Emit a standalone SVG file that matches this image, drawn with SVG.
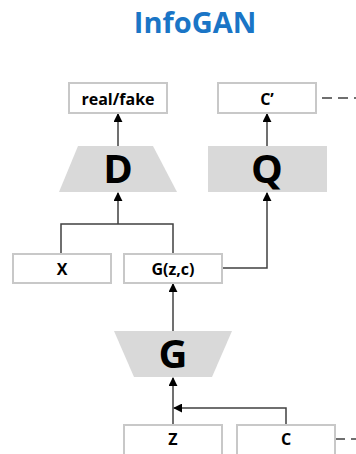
<svg xmlns="http://www.w3.org/2000/svg" width="356" height="454" viewBox="0 0 356 454">
<defs>
<marker id="ah" viewBox="0 0 10 10" refX="9" refY="5" markerWidth="9" markerHeight="9" markerUnits="userSpaceOnUse" orient="auto">
<path d="M0,0 L10,5 L0,10 z" fill="#000"/>
</marker>
</defs>
<style>
.box{fill:#fff;stroke:#c8c8c8;stroke-width:2}
.net{fill:#d9d9d9;stroke:none}
.lbl{font-family:"Open Sans","Noto Sans",sans-serif;font-weight:bold;font-size:16px;fill:#000;text-anchor:middle}
.big{font-family:"Open Sans","Noto Sans",sans-serif;font-weight:bold;font-size:40px;fill:#000;text-anchor:middle}
.ln{fill:none;stroke:#404040;stroke-width:1.5}
.dash{fill:none;stroke:#404040;stroke-width:1.5;stroke-dasharray:10 6}
</style>
<rect width="356" height="454" fill="#fff"/>
<text x="195" y="33" font-family="'Open Sans','Noto Sans',sans-serif" font-weight="bold" font-size="29" fill="#1a75c6" text-anchor="middle">InfoGAN</text>
<g id="connectors">
<path class="ln" d="M118,146 V114" marker-end="url(#ah)"/>
<path class="ln" d="M267,146 V114" marker-end="url(#ah)"/>
<path class="ln" d="M61,254 V224 H173 V254 M118,224 V193" marker-end="url(#ah)"/>
<path class="ln" d="M222,268 H267 V193" marker-end="url(#ah)"/>
<path class="ln" d="M173,331 V284" marker-end="url(#ah)"/>
<path class="ln" d="M173,425 V378" marker-end="url(#ah)"/>
<path class="ln" d="M286,425 V408 H174" marker-end="url(#ah)"/>
<path class="dash" d="M322,98 H356"/>
<path class="dash" d="M335,439 H356"/>
</g>
<g id="realfake"><rect class="box" x="69" y="83" width="98" height="30"/><text class="lbl" x="118" y="105">real/fake</text></g>
<g id="cprime"><rect class="box" x="218" y="83" width="98" height="30"/><text class="lbl" x="267" y="105">C’</text></g>
<g id="D"><polygon class="net" points="78,146 153,146 177,192 59,192"/><text class="big" x="118" y="183">D</text></g>
<g id="Q"><rect class="net" x="208" y="146" width="119" height="46"/><text class="big" x="267" y="183">Q</text></g>
<g id="X"><rect class="box" x="13" y="254" width="98" height="29"/><text class="lbl" x="62" y="275">X</text></g>
<g id="Gzc"><rect class="box" x="124" y="254" width="98" height="29"/><text class="lbl" x="173" y="275">G(z,c)</text></g>
<g id="G"><polygon class="net" points="114,331 232,331 212,377 134,377"/><text class="big" x="173" y="368">G</text></g>
<g id="Z"><rect class="box" x="124" y="425" width="98" height="32"/><text class="lbl" x="173" y="445">Z</text></g>
<g id="C"><rect class="box" x="237" y="425" width="98" height="32"/><text class="lbl" x="286" y="445">C</text></g>
</svg>
